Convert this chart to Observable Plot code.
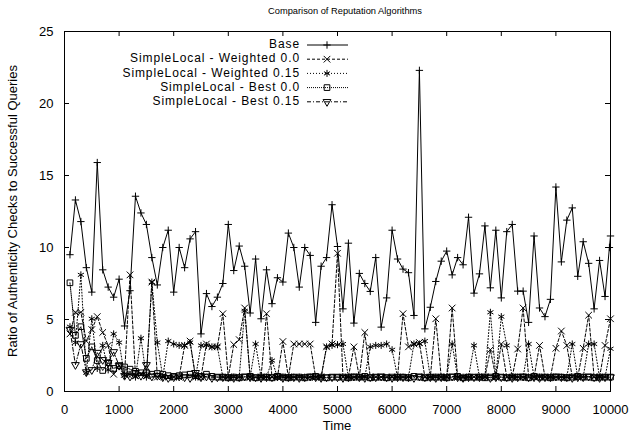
<!DOCTYPE html>
<html><head><meta charset="utf-8">
<script src="https://cdn.jsdelivr.net/npm/d3@7"></script>
<script src="https://cdn.jsdelivr.net/npm/@observablehq/plot@0.6"></script>
<style>
body{margin:0;background:#fff;}
#chart{width:630px;height:436px;}
</style></head><body><div id="chart"></div>
<script>
const title = "Comparison of Reputation Algorithms";
const xLabel = "Time";
const yLabel = "Ratio of Authenticity Checks to Successful Queries";
const seriesNames = ["Base","SimpleLocal - Weighted 0.0","SimpleLocal - Weighted 0.15","SimpleLocal - Best 0.0","SimpleLocal - Best 0.15"];
const xTicks = [0,1000,2000,3000,4000,5000,6000,7000,8000,9000,10000];
const yTicks = [0,5,10,15,20,25];
const time = d3.range(100, 10001, 100);

const base = [
 9.5,13.3,11.8,8.6,6.9,15.9,8.45,7.25,6.55,7.8,
 4.55,7.0,13.56,12.4,11.6,9.3,7.4,10.0,11.2,6.9,
 10.0,8.6,10.6,11.1,4.0,6.8,5.9,6.55,7.5,11.6,
 8.4,10.1,8.7,5.45,9.2,5.05,8.45,6.1,7.9,7.6,
 11.0,10.0,7.25,10.0,9.45,4.8,8.7,9.3,12.97,10.07,
 5.74,10.3,4.75,8.2,7.5,6.95,9.3,4.47,6.5,11.2,
 9.2,8.5,8.25,5.28,22.3,4.35,5.85,7.64,9.05,9.75,
 8.1,9.3,8.8,12.1,6.83,8.17,11.5,7.2,11.2,6.5,
 11.1,11.6,6.97,6.97,4.8,10.8,5.8,5.2,6.4,14.2,
 9.0,11.9,12.75,8.0,10.4,8.9,5.74,9.1,6.6,10.8];
const baseLateTime = [9980];
const baseLateValue = [10.0];

const weighted00 = [
 4.0,5.5,5.5,3.5,4.3,5.2,4.1,3.2,1.2,1.8,
 1.2,8.1,1.1,1.2,1.1,7.6,1.0,1.05,1.0,1.0,
 1.0,3.2,3.5,1.0,1.0,3.3,3.1,3.1,5.4,1.0,
 3.26,3.6,5.8,1.0,1.0,1.0,5.4,1.0,1.0,3.47,
 1.0,3.3,3.3,3.3,3.3,1.0,1.0,3.1,3.3,9.6,
 1.0,1.0,3.1,1.0,4.1,1.0,1.0,1.0,1.0,1.0,
 1.0,5.4,3.1,3.3,3.4,1.0,1.0,5.05,1.0,1.0,
 5.8,1.0,1.0,1.0,1.0,1.0,1.0,2.9,1.0,3.3,
 1.0,1.0,2.95,5.8,1.0,1.0,3.2,1.0,1.0,3.0,
 4.2,3.2,1.0,1.0,3.0,5.3,1.0,1.0,3.2,5.05];

const weighted015 = [
 4.5,3.4,8.1,1.3,5.05,1.6,3.2,1.5,4.0,3.4,
 1.1,1.2,1.0,3.7,1.0,7.6,3.4,1.0,3.5,3.3,
 3.2,3.2,3.4,1.0,3.2,3.2,3.1,3.1,1.0,1.0,
 1.0,1.0,5.6,1.0,3.3,1.0,1.0,2.15,1.0,1.0,
 1.0,1.0,1.0,1.0,1.0,1.0,1.0,3.1,3.2,3.25,
 3.3,1.0,1.0,1.0,1.0,3.1,3.2,3.2,3.3,2.9,
 1.0,1.0,1.0,3.3,3.3,3.5,1.0,1.0,1.0,1.0,
 3.3,1.0,1.0,1.0,3.2,1.0,1.0,5.5,1.0,5.2,
 3.2,1.0,1.0,1.0,3.3,1.0,1.0,1.0,1.0,1.0,
 1.0,1.0,3.3,1.0,1.0,3.3,3.3,1.0,1.0,2.97];

const best00 = [
 7.55,3.9,4.5,2.3,3.1,2.15,1.46,2.0,1.6,1.8,
 1.7,1.55,1.4,1.3,1.3,1.2,1.25,1.2,1.1,1.05,
 1.1,1.15,1.2,1.1,1.05,1.2,1.05,1.0,1.0,0.95,
 1.0,0.95,1.0,1.05,0.95,1.0,1.0,0.95,1.05,1.0,
 0.95,1.0,1.0,0.95,1.0,1.05,1.0,0.95,1.0,1.0,
 1.0,0.95,1.0,1.0,1.05,0.95,1.0,1.0,0.95,1.0,
 1.0,1.0,0.95,1.05,1.0,0.95,1.0,1.0,1.0,0.95,
 1.0,1.05,0.95,1.0,1.0,1.0,0.95,1.0,1.05,1.0,
 0.95,1.0,1.0,1.0,0.95,1.05,1.0,1.0,0.95,1.0,
 1.0,0.95,1.0,1.05,1.0,1.0,0.95,1.0,1.0,1.0];

const best015 = [
 4.3,1.85,3.3,1.35,1.5,2.7,2.2,2.0,2.75,1.8,
 1.1,1.05,1.3,1.1,1.85,1.05,1.1,1.0,0.95,1.0,
 1.05,1.0,0.95,1.3,1.0,1.05,0.95,1.0,1.0,1.0,
 0.95,1.0,1.05,1.0,1.0,0.95,1.0,1.0,1.05,0.95,
 1.0,1.0,0.95,1.0,1.05,1.0,0.95,1.0,1.0,1.0,
 0.95,1.0,1.05,1.0,0.95,1.0,1.0,1.05,1.0,0.95,
 1.0,1.0,1.0,0.95,1.05,1.0,1.0,0.95,1.0,1.0,
 1.05,1.0,0.95,1.0,1.0,1.0,1.05,0.95,1.0,1.0,
 1.0,0.95,1.0,1.05,1.0,1.0,0.95,1.0,1.0,1.05,
 1.0,1.0,0.95,1.0,1.0,1.05,1.0,0.95,1.0,1.0];

const styles = [
  {symbol:"plus", r:2.5, dash:null, rotate:0},
  {symbol:"times", r:3.1, dash:"3,2", rotate:0},
  {symbol:"asterisk", r:3.3, dash:"1,2", rotate:0},
  {symbol:"square", r:3.2, dash:"1,1", rotate:0},
  {symbol:"triangle", r:2.9, dash:"4,2,1,2", rotate:180}
];

function rows(times, vals){ return times.map((t,i)=>({t, v: vals[i]})); }
const baseRows = rows(time, base).concat(rows(baseLateTime, baseLateValue)).sort((a,b)=>a.t-b.t);
const data = [baseRows, rows(time, weighted00), rows(time, weighted015), rows(time, best00), rows(time, best015)];

const W=630, H=436, mL=64, mR=20, mT=31, mB=45;
const plotW = W-mL-mR, plotH = H-mT-mB;

const marks = [];
data.forEach((d,i)=>{
  const s = styles[i];
  marks.push(Plot.line(d, {x:"t", y:"v", stroke:"#000", strokeWidth:1, strokeDasharray:s.dash||undefined}));
  marks.push(Plot.dot(d, {x:"t", y:"v", symbol:()=>s.symbol, r:s.r, stroke:"#000", fill:"none", strokeWidth:1, rotate:s.rotate}));
});

const chart = Plot.plot({
  width: W, height: H,
  marginLeft: mL, marginRight: mR, marginTop: mT, marginBottom: mB,
  style: {fontFamily: "'Liberation Sans', Arial, Helvetica, sans-serif", fontSize: "13px", background:"#fff", color:"#000"},
  x: {domain:[0,10000], label:null},
  y: {domain:[0,25], label:null},
  symbol: {type:"identity"},
  marks: [
    Plot.axisX(xTicks, {tickSize:0, tickPadding:13, tickFormat:d=>String(d), label:null, fontSize:13}),
    Plot.axisY(yTicks, {tickSize:0, tickPadding:11, tickFormat:d=>String(d), label:null, fontSize:13}),
    ...marks,
    Plot.tickX(xTicks, {x:d=>d, insetTop: plotH-5, stroke:"#000"}),
    Plot.tickX(xTicks, {x:d=>d, insetBottom: plotH-5, stroke:"#000"}),
    Plot.tickY(yTicks, {y:d=>d, insetRight: plotW-5, stroke:"#000"}),
    Plot.tickY(yTicks, {y:d=>d, insetLeft: plotW-5, stroke:"#000"}),
    Plot.frame({stroke:"#000", strokeWidth:1})
  ]
});
document.getElementById("chart").appendChild(chart);

const svg = d3.select(chart);
const font = "'Liberation Sans', Arial, Helvetica, sans-serif";
svg.append("text").attr("x",345).attr("y",12).attr("text-anchor","middle").attr("dominant-baseline","middle")
  .attr("font-family",font).attr("font-size",9.3).text(title);
svg.append("text").attr("x",337).attr("y",427).attr("text-anchor","middle").attr("dominant-baseline","middle")
  .attr("font-family",font).attr("font-size",13).text(xLabel);
svg.append("text").attr("transform","translate(14,211) rotate(-90)").attr("text-anchor","middle").attr("dominant-baseline","middle")
  .attr("font-family",font).attr("font-size",13).text(yLabel);

const symMap = {plus:d3.symbolPlus, times:d3.symbolTimes, asterisk:d3.symbolAsterisk, square:d3.symbolSquare, triangle:d3.symbolTriangle};
const lg = svg.append("g");
seriesNames.forEach((name,i)=>{
  const y = 45 + i*14.2;
  const s = styles[i];
  lg.append("text").attr("x",300).attr("y",y).attr("text-anchor","end").attr("dominant-baseline","middle")
    .attr("font-family",font).attr("font-size",12).attr("letter-spacing","0.9px").text(name);
  lg.append("line").attr("x1",307).attr("x2",348).attr("y1",y).attr("y2",y)
    .attr("stroke","#000").attr("stroke-width",1).attr("stroke-dasharray", s.dash||null);
  lg.append("path").attr("d", d3.symbol(symMap[s.symbol], Math.PI*s.r*s.r)())
    .attr("transform",`translate(327,${y}) rotate(${s.rotate})`).attr("fill","none").attr("stroke","#000");
});
</script></body></html>
